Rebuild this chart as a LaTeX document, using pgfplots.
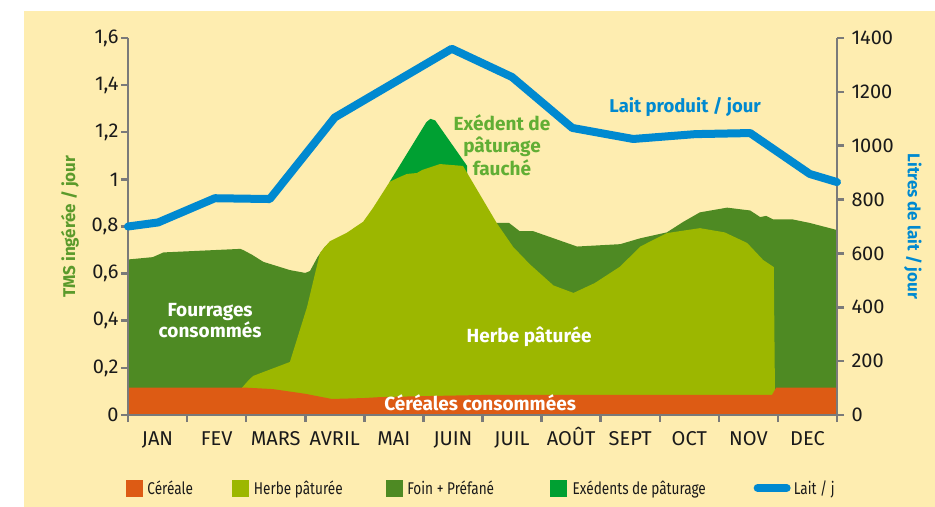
\documentclass[border=0pt]{standalone}
\usepackage{pgfplots}
\pgfplotsset{compat=1.18}
\usepackage{fontspec}
\setmainfont{Fira Sans}
\usepackage{graphicx}
\definecolor{cream}{HTML}{FEEDB0}
\definecolor{orangeC}{HTML}{DD5B14}
\definecolor{lgreen}{HTML}{9CB700}
\definecolor{dgreen}{HTML}{4E8A23}
\definecolor{xgreen}{HTML}{00A032}
\definecolor{milkblue}{HTML}{0089D0}
\definecolor{annotgreen}{HTML}{61AE34}
\definecolor{tmsgreen}{HTML}{5B9A2B}
\definecolor{textdark}{HTML}{1A1A1A}
\definecolor{axisgray}{HTML}{7A7A7A}
\newcommand{\fs}[1]{\fontsize{#1bp}{#1bp}\selectfont}
\begin{document}
\begin{tikzpicture}
\path[use as bounding box] (-128bp,-92bp) rectangle (807bp,415bp);
\fill[white] (-128bp,-92bp) rectangle (807bp,415bp);
\fill[cream] (-104bp,-92bp) rectangle (807bp,404bp);
\begin{axis}[
  scale only axis, width=709bp, height=377bp,
  xmin=0, xmax=12, ymin=0, ymax=1.6,
  clip=false, axis on top,
  axis x line*=bottom, axis y line*=left,
  axis line style={draw=axisgray, line width=2.5bp},
  tick align=outside, major tick length=7bp,
  tick style={draw=axisgray, line width=2.5bp},
  xtick={0,...,12},
  xticklabels={JAN,FEV,MARS,AVRIL,MAI,JUIN,JUIL,AOÛT,SEPT,OCT,NOV,DEC,{}},
  xticklabel style={xshift=29.54bp, yshift=-6bp, font=\fs{20}, text=textdark, text height=14bp, text depth=0bp},
  ytick={0,0.2,0.4,0.6,0.8,1,1.2,1.4,1.6},
  yticklabel style={font=\fs{20}, text=textdark, xshift=1bp},
  /pgf/number format/use comma,
  /pgf/number format/assume math mode=true,
  legend columns=5,
  legend style={at={(axis description cs:-0.003,0)}, anchor=west, yshift=-73bp,
    draw=none, fill=none, inner sep=0pt, font=\fs{17}, text=textdark,
    cells={anchor=west}, nodes={inner sep=0pt, text depth=0pt}},
]
% Exedents de paturage
\addplot[fill=xgreen, draw=none, forget plot] coordinates {
 (4.43,0.99) (5.05,1.243) (5.12,1.257) (5.2,1.25) (5.74,1.057)} \closedcycle;
% Foin + Prefane (total)
\addplot[fill=dgreen, draw=none, forget plot] coordinates {
 (0,0.66) (0.42,0.67) (0.6,0.69) (1.9,0.705) (1.95,0.70) (2.1,0.68) (2.29,0.65)
 (2.74,0.615) (3.0,0.603) (3.08,0.611) (3.21,0.671) (3.33,0.713) (3.42,0.735)
 (4.0,0.75) (5.0,0.8) (6.0,0.8) (6.24,0.815) (6.45,0.815) (6.63,0.78) (6.86,0.78)
 (7.6,0.715) (8.33,0.725) (8.67,0.75) (9.12,0.775) (9.4,0.82) (9.68,0.86)
 (10.14,0.88) (10.53,0.868) (10.7,0.84) (10.8,0.845) (10.92,0.83) (11.25,0.83)
 (11.54,0.815) (12,0.785)} \closedcycle;
% Herbe paturee
\addplot[fill=lgreen, draw=none, forget plot] coordinates {
 (1.93,0.116) (2.05,0.15) (2.12,0.166) (2.74,0.225) (3.03,0.458) (3.25,0.688)
 (3.33,0.713) (3.42,0.738) (3.7,0.773) (3.98,0.82) (4.15,0.88) (4.43,0.99)
 (4.6,1.01) (4.72,1.023) (4.89,1.027) (4.98,1.04) (5.28,1.065) (5.67,1.057)
 (5.91,0.955) (6.24,0.815) (6.52,0.713) (6.8,0.64) (7.2,0.55) (7.54,0.518)
 (7.9,0.56) (8.33,0.63) (8.67,0.715) (9.12,0.772) (9.68,0.793) (10.1,0.775)
 (10.48,0.73) (10.75,0.658) (10.93,0.628) (10.95,0.1)} \closedcycle;
% Cereale
\addplot[fill=orangeC, draw=none, forget plot] coordinates {
 (0,0.116) (2.0,0.116) (2.45,0.110) (3.0,0.090) (3.45,0.068) (4.0,0.072)
 (4.27,0.076) (5.0,0.08) (6.0,0.085) (10.9,0.085) (10.97,0.116) (12,0.116)} \closedcycle;

\addlegendimage{legend image code/.code={\fill[orangeC] (0bp,-8bp) rectangle (16bp,8bp); \path (21bp,0bp);}}
\addlegendentry{\makebox[85bp][l]{\scalebox{0.8}[1]{Céréale}}}
\addlegendimage{legend image code/.code={\fill[lgreen] (0bp,-8bp) rectangle (16bp,8bp); \path (21bp,0bp);}}
\addlegendentry{\makebox[132bp][l]{\scalebox{0.8}[1]{Herbe pâturée}}}
\addlegendimage{legend image code/.code={\fill[dgreen] (0bp,-8bp) rectangle (16bp,8bp); \path (21bp,0bp);}}
\addlegendentry{\makebox[143bp][l]{\scalebox{0.8}[1]{Foin + Préfané}}}
\addlegendimage{legend image code/.code={\fill[xgreen] (0bp,-8bp) rectangle (16bp,8bp); \path (22bp,0bp);}}
\addlegendentry{\makebox[181bp][l]{\scalebox{0.8}[1]{Exédents de pâturage}}}
\addlegendimage{legend image code/.code={\draw[milkblue, line width=8bp, line cap=round] (4bp,0bp) -- (33bp,0bp); \path (40bp,0bp);}}
\addlegendentry{\scalebox{0.8}[1]{Lait / j}}

\node[font=\fontsize{19bp}{22.5bp}\selectfont\bfseries, text=annotgreen, align=center] at (axis cs:6.33,1.146) {Exédent de\\pâturage\\fauché};
\node[font=\fs{18.5}\bfseries, text=milkblue] at (axis cs:9.43,1.307) {Lait produit / jour};
\node[font=\fontsize{19bp}{21bp}\selectfont\bfseries, text=white, align=center] at (axis cs:1.39,0.399) {Fourrages\\consommés};
\node[font=\fs{19}\bfseries, text=white] at (axis cs:6.79,0.331) {Herbe pâturée};
\node[font=\fs{19}\bfseries, text=white] at (axis cs:5.96,0.051) {Céréales consommées};
\node[font=\fs{17}\bfseries, text=tmsgreen, rotate=90] at (axis description cs:-0.0818,0.5) {TMS ingérée / jour};
\node[font=\fs{17}\bfseries, text=milkblue, rotate=-90] at (axis description cs:1.107,0.5) {Litres de lait / jour};
\end{axis}
\begin{axis}[
  scale only axis, width=709bp, height=377bp,
  xmin=0, xmax=12, ymin=0, ymax=1400,
  clip=false,
  axis y line*=right, axis x line=none,
  axis line style={draw=axisgray, line width=2.5bp},
  tick align=outside, major tick length=7bp,
  tick style={draw=axisgray, line width=2.5bp},
  ytick={0,200,400,600,800,1000,1200,1400},
  yticklabel style={font=\fs{20}, text=textdark, xshift=4bp},
  /pgf/number format/1000 sep={},
  /pgf/number format/assume math mode=true,
]
\addplot[milkblue, line width=8bp, line join=round, line cap=round] coordinates {
 (0,700) (0.51,715) (1.47,805) (2.4,802) (3.5,1105) (5.48,1360) (6.5,1255)
 (7.52,1066) (8.55,1025) (9.6,1043) (10.53,1047) (11.54,895) (12,865)};
\end{axis}
\end{tikzpicture}
\end{document}
